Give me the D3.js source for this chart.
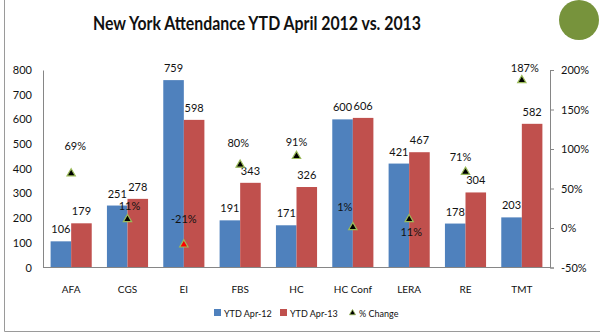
<!DOCTYPE html>
<html><head><meta charset="utf-8">
<script src="https://cdn.jsdelivr.net/npm/d3@7"></script>
<style>
html,body{margin:0;padding:0;background:#fff;}
svg{display:block;font-family:Lato,"Open Sans",sans-serif;}
</style></head>
<body>
<svg id="chart" width="600" height="333"></svg>
<script>
// Attendance by program, year to date through April
const categories = ["AFA","CGS","EI","FBS","HC","HC Conf","LERA","RE","TMT"];
const ytd2012 = [106,251,759,191,171,600,421,178,203];
const ytd2013 = [179,278,598,343,326,606,467,304,582];
const pctChange = [69,11,-21,80,91,1,11,71,187];
const leftTicks = [0,100,200,300,400,500,600,700,800];
const rightTicks = [-50,0,50,100,150,200];
const seriesNames = ["YTD Apr-12","YTD Apr-13","% Change"];

// hand-placed offsets of the % labels from their markers (px)
const pctLabelDx = [4,2,0,-2,0,-8,2,-5,3];
const pctLabelDy = [-27,-13,-26,-22,-14,-20,13,-15,-12];

const blue = "#4F81BD", red = "#C0504D", axisGrey = "#868686";
const svg = d3.select("#chart");

// frame lines
svg.append("line").attr("x1",4.5).attr("x2",4.5).attr("y1",0).attr("y2",331.5).attr("stroke","#9a9a9a");
svg.append("line").attr("x1",4.5).attr("x2",600).attr("y1",331.5).attr("y2",331.5).attr("stroke","#9a9a9a");
svg.append("circle").attr("cx",579).attr("cy",20).attr("r",20).attr("fill","#77933C");

svg.append("text").attr("x",93).attr("y",30)
  .attr("font-size",19).attr("font-weight","bold").attr("fill","#111")
  .attr("textLength",328).attr("lengthAdjust","spacingAndGlyphs")
  .text("New York Attendance YTD April 2012 vs. 2013");

const plotL = 43, plotR = 550, plotT = 70, plotB = 267.5;
const x = d3.scaleBand().domain(categories).range([plotL,plotR]).paddingInner(0.27).paddingOuter(0.135);
const xSub = d3.scaleBand().domain([0,1]).range([0,x.bandwidth()]);
const y = d3.scaleLinear().domain([0,800]).range([plotB,plotT]);
const y2 = d3.scaleLinear().domain([-50,200]).range([plotB,plotT]);

// left axis
const gL = svg.append("g").attr("transform",`translate(${plotL},0)`)
  .call(d3.axisLeft(y).tickValues(leftTicks).tickSize(0).tickPadding(11));
gL.select(".domain").attr("stroke",axisGrey);
gL.selectAll("text").attr("font-size",11).attr("fill","#111").attr("font-family","Lato");

// right axis
const gR = svg.append("g").attr("transform",`translate(${plotR},0)`)
  .call(d3.axisRight(y2).tickValues(rightTicks).tickSize(4).tickPadding(7).tickFormat(d=>d+"%"));
gR.select(".domain").attr("stroke",axisGrey);
gR.selectAll("line").attr("stroke",axisGrey);
gR.selectAll("text").attr("font-size",11).attr("fill","#111").attr("font-family","Lato");

// bars
const rows = categories.map((c,i)=>({c, vals:[ytd2012[i], ytd2013[i]], pct:pctChange[i], dx:pctLabelDx[i], dy:pctLabelDy[i]}));
const grp = svg.append("g").selectAll("g").data(rows).join("g")
  .attr("transform",d=>`translate(${x(d.c)},0)`);
grp.selectAll("rect").data(d=>d.vals).join("rect")
  .attr("x",(d,i)=>xSub(i)).attr("width",xSub.bandwidth())
  .attr("y",d=>y(d)).attr("height",d=>plotB-y(d))
  .attr("fill",(d,i)=>i===0?blue:red);
grp.selectAll("text.val").data(d=>d.vals).join("text").attr("class","val")
  .attr("x",(d,i)=>xSub(i)+xSub.bandwidth()/2).attr("y",d=>y(d)-8)
  .attr("text-anchor","middle").attr("font-size",11).attr("fill","#111").text(d=>d);

// bottom axis
const gB = svg.append("g").attr("transform",`translate(0,${plotB})`)
  .call(d3.axisBottom(x).tickSize(0).tickPadding(18));
gB.select(".domain").attr("stroke",axisGrey).attr("d",`M${plotL},0H${plotR}`);
gB.selectAll("text").attr("font-size",10).attr("fill","#111").attr("font-family","Lato");

// % change markers
const tri = d3.symbol().type(d3.symbolTriangle).size(30);
const mk = svg.append("g").selectAll("g").data(rows).join("g")
  .attr("transform",d=>`translate(${x(d.c)+x.bandwidth()/2},${y2(d.pct)})`);
mk.append("path").attr("d",tri).attr("fill",d=>d.pct<0?"#FF0000":"#000")
  .attr("stroke","#9BBB59").attr("stroke-width",1.2);
mk.append("text").attr("text-anchor","middle").attr("font-size",11).attr("fill","#111")
  .attr("x",d=>d.dx).attr("y",d=>d.dy+4)
  .text(d=>d.pct+"%");

// legend
const lg = svg.append("g").attr("transform","translate(0,313)");
const items = [{x:214,n:seriesNames[0],t:"sq",c:blue},{x:280,n:seriesNames[1],t:"sq",c:red},{x:349,n:seriesNames[2],t:"tri"}];
items.forEach(it=>{
  if(it.t==="sq") lg.append("rect").attr("x",it.x).attr("y",-4).attr("width",7).attr("height",7).attr("fill",it.c);
  else lg.append("path").attr("d",d3.symbol().type(d3.symbolTriangle).size(16)).attr("transform",`translate(${it.x+3.5},0)`).attr("fill","#000").attr("stroke","#9BBB59").attr("stroke-width",0.8);
  lg.append("text").attr("x",it.x+10).attr("y",3.5).attr("font-size",9).attr("fill","#111").text(it.n);
});
</script>
</body></html>
